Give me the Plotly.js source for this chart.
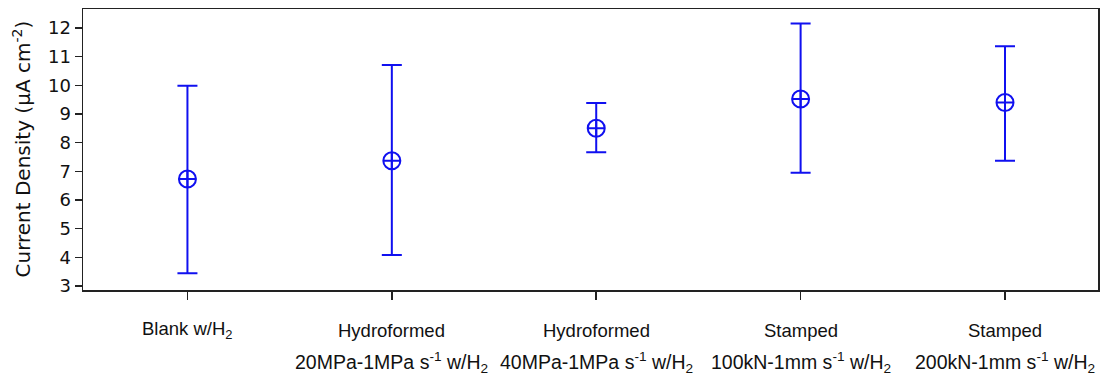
<!DOCTYPE html>
<html><head><meta charset="utf-8">
<script src="https://cdn.plot.ly/plotly-3.0.1.min.js"></script>
<style>html,body{margin:0;padding:0;background:#fff}#chart{width:1110px;height:378px}</style>
</head><body><div id="chart"></div>
<script>
const categories = ["Blank", "Hydro20", "Hydro40", "Stamp100", "Stamp200"];
const labelLine1 = ["Blank w/H<sub>2</sub>", "Hydroformed", "Hydroformed", "Stamped", "Stamped"];
const labelLine2 = ["", "20MPa-1MPa s<sup>-1</sup> w/H<sub>2</sub>", "40MPa-1MPa s<sup>-1</sup> w/H<sub>2</sub>", "100kN-1mm s<sup>-1</sup> w/H<sub>2</sub>", "200kN-1mm s<sup>-1</sup> w/H<sub>2</sub>"];
const yTitle = 'Current Density (µA cm<sup>-2</sup>)';
const meanValues = [6.73, 7.37, 8.50, 9.52, 9.40];
const upperValues = [9.98, 10.71, 9.38, 12.15, 11.36];
const lowerValues = [3.44, 4.08, 7.66, 6.95, 7.37];

const xIdx = categories.map((c, i) => i);
const trace = {
  x: xIdx, y: meanValues, type: 'scatter', mode: 'markers',
  marker: {symbol: 'circle-cross-open', size: 17, color: '#1010f0', line: {width: 2, color: '#1010f0'}},
  error_y: {type: 'data', symmetric: false,
    array: upperValues.map((u, i) => u - meanValues[i]),
    arrayminus: meanValues.map((m, i) => m - lowerValues[i]),
    color: '#1010f0', thickness: 2, width: 10},
  showlegend: false, hoverinfo: 'skip'
};
const font1 = {family: 'Liberation Sans', size: 18.5, color: '#111'};
const font2 = {family: 'Liberation Sans', size: 19.5, color: '#111'};
const annotations = [];
xIdx.forEach(i => {
  annotations.push({x: i, xref: 'x', y: 0, yref: 'paper', yanchor: 'middle', yshift: -40, text: labelLine1[i], showarrow: false, font: font1});
  if (labelLine2[i]) annotations.push({x: i, xref: 'x', y: 0, yref: 'paper', yanchor: 'middle', yshift: -72, text: labelLine2[i], showarrow: false, font: font2});
});
annotations.push({x: 0, xref: 'paper', xanchor: 'center', xshift: -62, y: 0.5, yref: 'paper', yanchor: 'middle', textangle: -90,
  text: yTitle, showarrow: false, font: {family: 'DejaVu Sans', size: 20, color: '#111'}});
const layout = {
  width: 1110, height: 378,
  margin: {l: 83, r: 12, t: 9, b: 88},
  paper_bgcolor: '#fff', plot_bgcolor: '#fff',
  xaxis: {range: [-0.511, 4.455], tickvals: xIdx, showticklabels: false, ticks: 'outside', ticklen: 8, tickwidth: 1.5, tickcolor: '#222',
    showline: true, linecolor: '#222', linewidth: 1.5, mirror: true, showgrid: false, zeroline: false},
  yaxis: {range: [2.86, 12.66], tickvals: [3,4,5,6,7,8,9,10,11,12], ticks: 'outside', ticklen: 7, tickwidth: 1.5, tickcolor: '#222',
    showline: true, linecolor: '#222', linewidth: 1.5, mirror: true, showgrid: false, zeroline: false,
    tickfont: {family: 'DejaVu Sans', size: 18, color: '#111'}},
  annotations: annotations
};
Plotly.newPlot('chart', [trace], layout, {staticPlot: true, displayModeBar: false});
</script></body></html>
